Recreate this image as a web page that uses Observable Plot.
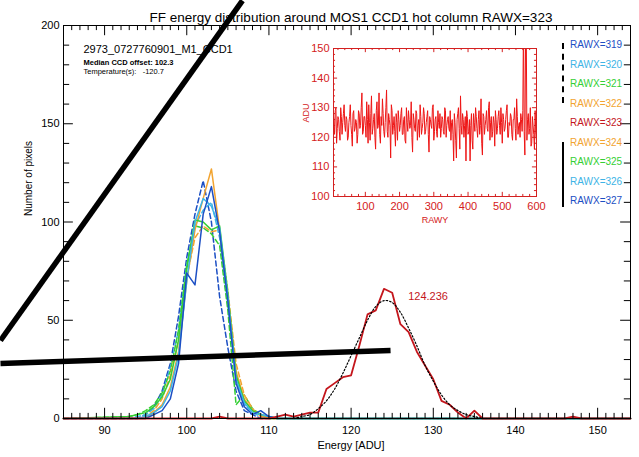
<!DOCTYPE html>
<html>
<head>
<meta charset="utf-8">
<script src="https://cdn.jsdelivr.net/npm/d3@7"></script>
<script src="https://cdn.jsdelivr.net/npm/@observablehq/plot@0.6"></script>
<style>
  html, body { margin: 0; padding: 0; background: white; }
  #wrap { position: relative; width: 639px; height: 457px; overflow: hidden; font-family: "Liberation Sans", Arial, sans-serif; }
  #inset { position: absolute; left: 290px; top: 40px; }
  #legend { position: absolute; left: 570px; top: 35px; font-size: 10px; line-height: 19.5px; }
  .lg-dash { position: absolute; left: 562px; top: 43px; height: 60px; border-left: 2px dashed black; }
  .lg-solid { position: absolute; left: 562px; top: 142px; height: 65px; border-left: 2px solid black; }
</style>
</head>
<body>
<div id="wrap"></div>
<script>
// ---------------- data ----------------
const titleText = "FF energy distribution around MOS1 CCD1 hot column RAWX=323";
const obsId = "2973_0727760901_M1_CCD1";
const offsetText = "Median CCD offset: 102.3";
const tempText = "Temperature(s):   -120.7";

// energy bins of the neighbouring columns (ADU)
const energy = [93,94,95,96,97,98,99,100,101,102,103,104,105,106,107,108,109,110,111];
const rawx319 = [0,0,2,6,14,28,52,82,104,121,100,62,36,14,4,2,0,0,0];
const rawx320 = [0,1,2,5,12,26,45,78,98,106,110,92,58,20,7,3,1,0,0];
const rawx321 = [1,2,4,7,13,24,45,78,98,97,94,88,55,7,12,5,2,0,0];
const rawx322 = [0,0,1,4,10,22,40,72,92,98,95,96,65,28,12,5,1,0,0];
const rawx324 = [0,0,0,3,7,16,34,70,96,112,127,96,62,24,10,4,2,0,0];
const rawx325 = [1,2,3,6,11,20,40,76,101,100,96,98,64,22,9,4,2,1,0];
const rawx326 = [0,0,1,3,6,14,32,70,100,112,108,97,62,20,8,3,2,1,0];
const rawx327 = [0,0,0,2,4,10,28,74,68,104,118,95,60,18,6,2,4,1,0];

// hot column RAWX=323
const energy323 = [85,103,104,105,110,111,112,113,114,115,116,117,118,119,120,121,122,123,124,125,126,127,128,129,130,131,132,133,134,135,136,137,146,147,148,154];
const rawx323   = [0,0,1,0,0,1,2,1,2,3,3,15,18,21,22,37,53,55,66,64,48,44,34,27,20,9,7,3,0,4,0,0,0,1,0,0];

// gaussian fit of the hot column (dotted)
const fitEnergy = [113,114,115,116,117,118,119,120,121,122,123,124,125,126,127,128,129,130,131,132,133,134,135,136];
const fitCounts = [0,1,2,5,9,15,23,32,41,50,57,60,59,54,46,37,27,19,12,7,4,2,1,0];
const fitCentre = 124.236;
const fitLabelPos = {x: 129.36, y: 62};

// inset: ADU vs RAWY of the hot column (rows 2,6,10,... and 4,8,12,...)
const insetAduA = [
 124,128,121,130,123,126,119,127,125,131,
 122,126,120,127,124,117,129,123,125,121,
 128,124,135,122,127,120,126,131,119,134,
 123,128,116,132,124,121,127,133,122,125,
 136,120,126,113,129,124,122,128,119,126,
 124,130,121,127,118,125,129,123,132,115,
 126,122,128,124,120,127,123,130,121,125,
 129,115,126,123,131,122,127,120,125,128,
 123,126,121,129,124,127,122,119,126,112,
 125,113,128,123,134,121,126,124,112,127,
 122,112,128,116,125,130,123,126,121,133,
 114,127,124,129,122,132,125,120,127,117,
 126,123,129,121,125,128,122,126,131,120,
 124,127,119,126,123,133,121,125,128,122,
 160,114,158,126,121,130,118,124,116,121
];
const insetAduB = [
 120,126,129,118,127,122,130,121,128,124,
 127,119,125,131,121,128,122,126,118,129,
 123,130,121,127,124,132,118,125,128,121,
 126,120,129,123,135,118,124,128,120,130,
 122,128,124,131,121,127,117,125,129,122,
 128,121,126,119,130,122,126,124,120,128,
 123,129,119,126,131,121,125,128,122,127,
 121,127,124,130,119,126,122,129,123,120,
 127,122,130,120,126,123,129,125,121,128,
 119,126,130,116,124,128,120,127,129,121,
 126,124,119,128,122,127,120,129,124,118,
 128,121,126,123,130,119,127,122,125,129,
 121,127,124,130,118,126,123,129,120,125,
 128,121,126,130,119,127,124,120,126,129,
 122,152,119,128,123,117,127,121,129,119
];
const insetRawyA = d3.range(2, 600, 4);
const insetRawyB = d3.range(4, 601, 4);

// tick labels
const xTicks = [90,100,110,120,130,140,150];
const yTicks = [0,50,100,150,200];
const insetXTicks = [100,200,300,400,500,600];
const insetYTicks = [100,110,120,130,140,150];

// hand-drawn black annotation strokes (data units)
const strokeA = {x: [77.33, 106.78], y: [39.7, 212.7]};
const strokeB = {x: [77.33, 124.8], y: [28.0, 34.6]};

// legend
const legendNames = ["RAWX=319","RAWX=320","RAWX=321","RAWX=322","RAWX=323","RAWX=324","RAWX=325","RAWX=326","RAWX=327"];

// ---------------- styles ----------------
const C = {
  "RAWX=319": "#1c4fc4", "RAWX=320": "#3db4e6", "RAWX=321": "#35cf35", "RAWX=322": "#f2a431",
  "RAWX=323": "#c4161c", "RAWX=324": "#f2a431", "RAWX=325": "#35cf35", "RAWX=326": "#3db4e6", "RAWX=327": "#1c4fc4"
};

const series = [
  {name: "RAWX=319", v: rawx319, dash: "5,3"},
  {name: "RAWX=320", v: rawx320, dash: "5,3"},
  {name: "RAWX=321", v: rawx321, dash: "5,3"},
  {name: "RAWX=322", v: rawx322, dash: "5,3"},
  {name: "RAWX=324", v: rawx324, dash: null},
  {name: "RAWX=325", v: rawx325, dash: null},
  {name: "RAWX=326", v: rawx326, dash: null},
  {name: "RAWX=327", v: rawx327, dash: null}
];

const xDom = [85, 154];
const rowsOf = (v) => [{x: xDom[0], y: 0}, ...energy.map((e, i) => ({x: e, y: v[i]})), {x: xDom[1], y: 0}];

const lineMarks = series.map(s => Plot.line(rowsOf(s.v), {
  x: "x", y: "y", stroke: C[s.name], strokeWidth: 1.5,
  strokeDasharray: s.dash || undefined
}));

const hotRows = energy323.map((e, i) => ({x: e, y: rawx323[i]}));
const fitRows = fitEnergy.map((e, i) => ({x: e, y: fitCounts[i]}));

// tick positions
const xMinor = d3.range(86, 154, 1).filter(d => d % 10 !== 0);
const xMajor = d3.range(90, 151, 10);
const yMinor = d3.range(10, 200, 10).filter(d => d % 50 !== 0);
const yMajor = [50, 100, 150];

const font = "Liberation Sans, Arial, Helvetica, sans-serif";

const main = Plot.plot({
  width: 639, height: 457,
  marginLeft: 63, marginRight: 9, marginTop: 25, marginBottom: 39,
  x: {domain: xDom},
  y: {domain: [0, 200]},
  style: {fontFamily: font, fontSize: "11px", background: "white", color: "black"},
  marks: [
    ...lineMarks,
    Plot.line(hotRows, {x: "x", y: "y", stroke: C["RAWX=323"], strokeWidth: 1.8}),
    Plot.line(fitRows, {x: "x", y: "y", stroke: "black", strokeWidth: 1.2, strokeDasharray: "1.5,2", curve: "catmull-rom"}),
    Plot.text([fitCentre.toFixed(3)], {x: () => fitLabelPos.x, y: () => fitLabelPos.y, fill: "#c4161c", fontSize: 11}),
    // frame & ticks
    Plot.frame({stroke: "black", strokeWidth: 1}),
    Plot.ruleX(xMinor, {x: d => d, y1: 0, y2: 2.6, stroke: "black"}),
    Plot.ruleX(xMajor, {x: d => d, y1: 0, y2: 5.2, stroke: "black"}),
    Plot.ruleX(xMinor, {x: d => d, y1: 200, y2: 197.4, stroke: "black"}),
    Plot.ruleX(xMajor, {x: d => d, y1: 200, y2: 194.8, stroke: "black"}),
    Plot.ruleY(yMinor, {y: d => d, x1: 85, x2: 85.75, stroke: "black"}),
    Plot.ruleY(yMajor, {y: d => d, x1: 85, x2: 86.2, stroke: "black"}),
    Plot.ruleY(yMinor, {y: d => d, x1: 154, x2: 153.25, stroke: "black"}),
    Plot.ruleY(yMajor, {y: d => d, x1: 154, x2: 152.8, stroke: "black"}),
    Plot.axisX({ticks: xTicks, tickSize: 0, tickPadding: 8, label: null, fontSize: 11}),
    Plot.axisY({ticks: yTicks, tickSize: 0, tickPadding: 4, label: null, fontSize: 11}),
    // texts
    Plot.text([titleText], {frameAnchor: "top", dx: 4, dy: -13, fontSize: 13.5}),
    Plot.text(["Energy [ADU]"], {frameAnchor: "bottom", dx: 4, dy: 30, fontSize: 11}),
    Plot.text(["Number of pixels"], {frameAnchor: "left", dx: -35, dy: -6, rotate: -90, fontSize: 10}),
    Plot.text([obsId], {frameAnchor: "top-left", textAnchor: "start", dx: 20, dy: 20, fontSize: 11}),
    Plot.text([offsetText], {frameAnchor: "top-left", textAnchor: "start", dx: 20, dy: 34, fontSize: 7.5, fontWeight: "bold"}),
    Plot.text([tempText], {frameAnchor: "top-left", textAnchor: "start", dx: 20, dy: 43, fontSize: 7.5}),
    // black annotation strokes
    Plot.line(strokeA.x.map((x, i) => ({x, y: strokeA.y[i]})), {x: "x", y: "y", stroke: "black", strokeWidth: 5.5, strokeLinecap: "butt"}),
    Plot.line(strokeB.x.map((x, i) => ({x, y: strokeB.y[i]})), {x: "x", y: "y", stroke: "black", strokeWidth: 5.5, strokeLinecap: "butt"})
  ]
});

// ---------------- inset ----------------
const insetRows = [
  ...insetRawyA.map((r, i) => ({x: r, y: insetAduA[i]})),
  ...insetRawyB.map((r, i) => ({x: r, y: insetAduB[i]}))
].sort((a, b) => a.x - b.x);
const ixMinor = d3.range(20, 600, 20).filter(d => d % 100 !== 0);
const iyMinor = d3.range(102, 150, 2).filter(d => d % 10 !== 0);
const iyMajor = [110, 120, 130, 140];
const red = "#d42020";

const inset = Plot.plot({
  width: 250, height: 195,
  marginLeft: 43, marginRight: 4, marginTop: 8, marginBottom: 39,
  x: {domain: [7, 600]},
  y: {domain: [100, 150]},
  style: {fontFamily: font, fontSize: "11px", background: "white", color: red, overflow: "visible"},
  marks: [
    Plot.line(insetRows, {x: "x", y: "y", stroke: "#ee1515", strokeWidth: 1, clip: true}),
    Plot.frame({stroke: red, strokeWidth: 1}),
    Plot.ruleX(ixMinor, {x: d => d, y1: 100, y2: 100.7, stroke: red}),
    Plot.ruleX(insetXTicks, {x: d => d, y1: 100, y2: 101.4, stroke: red}),
    Plot.ruleX(ixMinor, {x: d => d, y1: 150, y2: 149.3, stroke: red}),
    Plot.ruleX(insetXTicks, {x: d => d, y1: 150, y2: 148.6, stroke: red}),
    Plot.ruleY(iyMinor, {y: d => d, x1: 7, x2: 13, stroke: red}),
    Plot.ruleY(iyMajor, {y: d => d, x1: 7, x2: 19, stroke: red}),
    Plot.ruleY(iyMinor, {y: d => d, x1: 600, x2: 594, stroke: red}),
    Plot.ruleY(iyMajor, {y: d => d, x1: 600, x2: 588, stroke: red}),
    Plot.axisX({ticks: insetXTicks, tickSize: 0, tickPadding: 6, label: null, fontSize: 11, fill: red}),
    Plot.axisY({ticks: insetYTicks, tickSize: 0, tickPadding: 4, label: null, fontSize: 11, fill: red}),
    Plot.text(["RAWY"], {frameAnchor: "bottom", dy: 26, fontSize: 9, fill: red}),
    Plot.text(["ADU"], {frameAnchor: "left", dx: -27, rotate: -90, fontSize: 9, fill: red})
  ]
});

// ---------------- assemble ----------------
const wrap = document.getElementById("wrap");
wrap.appendChild(main);
const insetDiv = document.createElement("div");
insetDiv.id = "inset";
insetDiv.appendChild(inset);
wrap.appendChild(insetDiv);

const legend = document.createElement("div");
legend.id = "legend";
legendNames.forEach(n => {
  const row = document.createElement("div");
  row.textContent = n;
  row.style.color = C[n];
  legend.appendChild(row);
});
wrap.appendChild(legend);
const d1 = document.createElement("div"); d1.className = "lg-dash"; wrap.appendChild(d1);
const d2 = document.createElement("div"); d2.className = "lg-solid"; wrap.appendChild(d2);
</script>
</body>
</html>
